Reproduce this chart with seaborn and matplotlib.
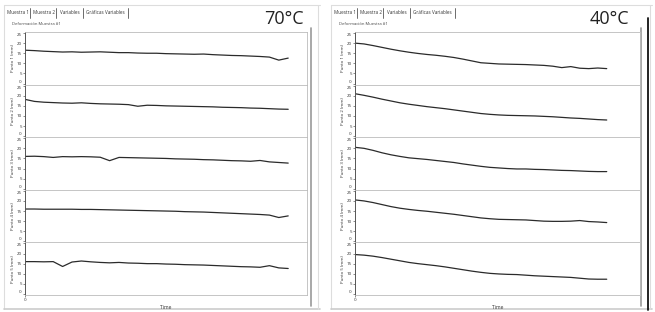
import matplotlib
matplotlib.use("Agg")
import matplotlib.pyplot as plt
import seaborn as sns
import pandas as pd

sns.set_style("white")
plt.rcParams['font.family'] = ['Open Sans', 'DejaVu Sans']

# time index (samples)
time = list(range(29))

# 70 °C panel
p70_1 = [16.5, 16.3, 16.0, 15.8, 15.6, 15.7, 15.5, 15.6, 15.7, 15.5, 15.3, 15.3, 15.1, 15.0, 15.0,
         14.8, 14.7, 14.6, 14.5, 14.6, 14.3, 14.1, 13.9, 13.8, 13.6, 13.4, 13.1, 11.6, 12.6]
p70_2 = [18.2, 17.2, 16.8, 16.6, 16.4, 16.3, 16.5, 16.2, 16.0, 15.9, 15.8, 15.6, 14.8, 15.3, 15.2,
         15.0, 14.9, 14.8, 14.7, 14.6, 14.5, 14.3, 14.2, 14.1, 13.9, 13.8, 13.6, 13.4, 13.3]
p70_3 = [16.0, 16.1, 15.9, 15.5, 15.9, 15.8, 15.9, 15.8, 15.6, 13.9, 15.5, 15.4, 15.3, 15.2, 15.1,
         15.0, 14.8, 14.7, 14.6, 14.4, 14.3, 14.1, 13.9, 13.8, 13.6, 14.0, 13.3, 13.0, 12.7]
p70_4 = [16.0, 16.0, 15.9, 15.9, 15.9, 15.9, 15.8, 15.8, 15.7, 15.6, 15.5, 15.4, 15.3, 15.2, 15.1,
         15.0, 14.9, 14.7, 14.6, 14.5, 14.3, 14.1, 13.9, 13.7, 13.5, 13.3, 13.0, 11.8, 12.6]
p70_5 = [16.0, 16.0, 15.9, 16.0, 13.6, 15.8, 16.3, 15.9, 15.6, 15.4, 15.6, 15.3, 15.2, 15.0, 15.0,
         14.8, 14.7, 14.5, 14.4, 14.3, 14.1, 13.9, 13.7, 13.5, 13.4, 13.2, 14.0, 12.9, 12.6]

# 40 °C panel
p40_1 = [20.0, 19.6, 18.8, 17.9, 17.0, 16.2, 15.5, 14.9, 14.4, 14.0, 13.5, 12.9, 12.1, 11.2, 10.3,
         10.0, 9.7, 9.6, 9.5, 9.4, 9.2, 9.0, 8.6, 7.9, 8.4, 7.6, 7.4, 7.7, 7.4]
p40_2 = [21.0, 20.2, 19.3, 18.3, 17.4, 16.5, 15.8, 15.2, 14.6, 14.1, 13.6, 13.0, 12.4, 11.8, 11.2,
         10.8, 10.5, 10.3, 10.2, 10.1, 10.0, 9.8, 9.6, 9.3, 9.0, 8.8, 8.5, 8.2, 8.0]
p40_3 = [20.5, 20.0, 19.0, 17.8, 16.8, 16.0, 15.3, 14.9, 14.5, 14.0, 13.5, 13.0, 12.3, 11.7, 11.1,
         10.6, 10.3, 10.0, 9.8, 9.8, 9.6, 9.5, 9.3, 9.1, 9.0, 8.8, 8.6, 8.5, 8.5]
p40_4 = [20.5, 20.0, 19.2, 18.2, 17.2, 16.4, 15.8, 15.3, 14.9, 14.4, 13.9, 13.4, 12.8, 12.2, 11.6,
         11.2, 10.9, 10.8, 10.7, 10.6, 10.3, 10.0, 9.9, 9.9, 10.0, 10.3, 9.8, 9.6, 9.3]
p40_5 = [19.5, 19.2, 18.7, 18.0, 17.2, 16.4, 15.6, 15.0, 14.5, 14.0, 13.4, 12.7, 12.0, 11.3, 10.7,
         10.2, 9.9, 9.7, 9.6, 9.3, 9.0, 8.8, 8.6, 8.4, 8.2, 7.8, 7.4, 7.3, 7.3]

ylabels = ["Punto 1 (mm)", "Punto 2 (mm)", "Punto 3 (mm)", "Punto 4 (mm)", "Punto 5 (mm)"]
tabs = ["Muestra 1", "Muestra 2", "Variables", "Gráficas Variables"]

W, H = 655, 312
fig = plt.figure(figsize=(W / 100, H / 100), dpi=100)
fig.patch.set_facecolor("white")

# background axes in pixel coords for window decorations
bg = fig.add_axes([0, 0, 1, 1])
bg.set_xlim(0, W)
bg.set_ylim(H, 0)
bg.axis("off")


def px_axes(x0, y0, x1, y1):
    return fig.add_axes([x0 / W, 1 - y1 / H, (x1 - x0) / W, (y1 - y0) / H])


panels = [
    dict(x0=25, x1=307, px0=4, px1=320, temp="70°C", tx=264, xmax=30.0,
         series=[p70_1, p70_2, p70_3, p70_4, p70_5], sub="Deformación Muestra #1", bar=311),
    dict(x0=355, x1=640, px0=331, px1=652, temp="40°C", tx=590, xmax=31.7,
         series=[p40_1, p40_2, p40_3, p40_4, p40_5], sub="Deformación Muestra #1", bar=641),
]

top, bottom = 32, 295
h = (bottom - top) / 5

for p in panels:
    # window frame
    bg.plot([p["px0"], p["px1"]], [5, 5], color="#dddddd", lw=0.8)
    bg.plot([p["px0"], p["px0"]], [5, 309], color="#dddddd", lw=0.8)
    bg.plot([p["px0"], p["px1"]], [309, 309], color="#cccccc", lw=1.2)
    bg.plot([p["px1"] - 2, p["px1"] - 2], [5, 309], color="#dddddd", lw=0.8)
    # tabs
    tx = p["px0"] + 3
    for t in tabs:
        bg.text(tx, 13, t, fontsize=3.3, color="#333333", va="center", ha="left")
        tx += len(t) * 2.15 + 7
        bg.plot([tx - 3.5, tx - 3.5], [8, 18], color="#555555", lw=0.6)
    bg.text(p["px0"] + 8, 24, p["sub"], fontsize=3.0, color="#444444", va="center")
    bg.text(p["tx"], 19, p["temp"], fontsize=13, color="#222222", va="center", ha="left")
    # right scroll bar
    bg.plot([p["bar"], p["bar"]], [28, 306], color="#999999", lw=1.2)

bg.plot([648, 648], [18, 310], color="#111111", lw=1.3)

for p in panels:
    for k in range(5):
        ax = px_axes(p["x0"], top + k * h, p["x1"], top + (k + 1) * h)
        df = pd.DataFrame({"time": time, "value": p["series"][k]})
        sns.lineplot(data=df, x="time", y="value", ax=ax, color="#2b2b2b", lw=0.9)
        ax.set_xlim(0, p["xmax"])
        ax.set_ylim(-0.5, 25.5)
        ax.set_yticks([0, 5, 10, 15, 20, 25])
        ax.tick_params(axis="y", labelsize=3.2, length=1.5, width=0.4, pad=0.8, colors="#333333",
                       left=True)
        # keep the end labels inside their own axes so stacked panels don't collide
        ylbls = ax.get_yticklabels()
        ylbls[0].set_va("bottom")
        ylbls[-1].set_va("top")
        ax.set_ylabel(ylabels[k], fontsize=3.2, labelpad=1.2, color="#333333")
        if k == 4:
            ax.set_xticks([0])
            ax.set_xticklabels(["0"])
            ax.tick_params(axis="x", labelsize=3.2, length=1.5, width=0.4, pad=0.8, colors="#333333",
                           bottom=True)
            ax.set_xlabel("Time", fontsize=3.6, labelpad=2, color="#333333")
        else:
            ax.set_xticks([])
            ax.set_xlabel("")
        for s in ["top", "right", "bottom"]:
            ax.spines[s].set_color("#bbbbbb")
            ax.spines[s].set_linewidth(0.6)
        ax.spines["left"].set_color("#555555")
        ax.spines["left"].set_linewidth(0.7)
        ax.set_facecolor("white")

fig.savefig("out.png", dpi=100)
